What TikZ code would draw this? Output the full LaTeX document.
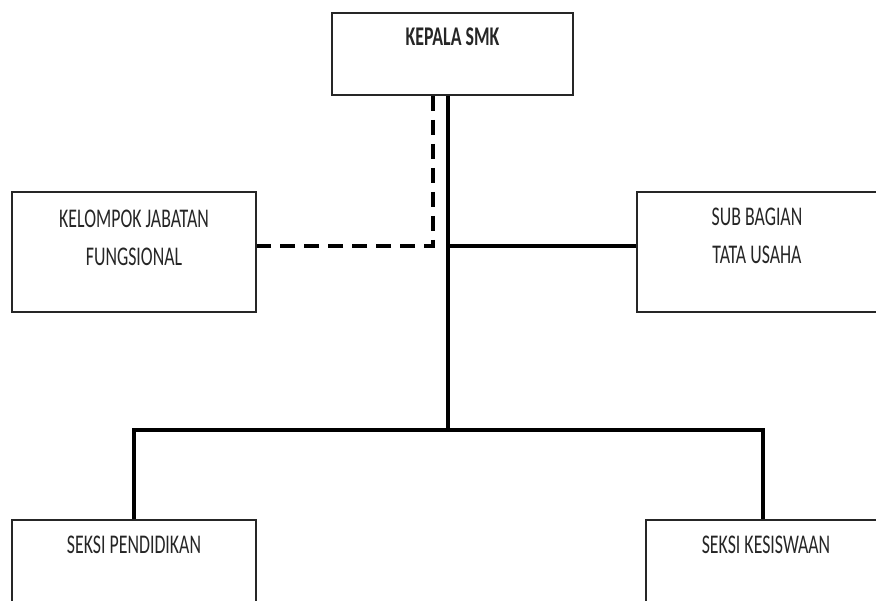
\documentclass[tikz,border=0pt]{standalone}
\usepackage{fontspec}
\setmainfont[FakeStretch=0.66]{Carlito}
\usetikzlibrary{positioning}

\tikzset{
  box/.style={draw=black!85, line width=1.6pt, minimum width=242pt, minimum height=120pt, inner sep=0pt},
  txt/.style={text=black!85, align=center, font=\fontsize{27}{38}\selectfont},
  conn/.style={line width=3.2pt, line cap=butt, line join=miter},
  dashconn/.style={conn, dash pattern=on 15pt off 9pt}
}

\begin{document}
\begin{tikzpicture}[x=1pt, y=-1pt]

% CANVAS
\path[use as bounding box, clip] (0,0) rectangle (876,601);

% BOXES
\node[box, minimum width=241pt, minimum height=82pt] (kepala) at (452.5,54) {};
\node[box, minimum width=244pt] (fungsional) at (134,252) {};
\node[box, minimum width=240pt] (tatausaha) at (757,252) {};
\node[box, minimum width=244pt] (pendidikan) at (134,580) {};
\node[box, minimum width=240pt] (kesiswaan) at (766,580) {};

% LABELS
\node[txt, font=\fontsize{27}{38}\selectfont\bfseries] (kepalaT) at ([yshift=-24.5pt]kepala.north) {KEPALA SMK};
\node[txt] (fungsionalT) at ([yshift=-47pt]fungsional.north) {KELOMPOK JABATAN\\FUNGSIONAL};
\node[txt] (tatausahaT) at ([yshift=-45pt]tatausaha.north) {SUB BAGIAN\\TATA USAHA};
\node[txt] (pendidikanT) at ([yshift=-26pt]pendidikan.north) {SEKSI PENDIDIKAN};
\node[txt] (kesiswaanT) at ([yshift=-26pt]kesiswaan.north) {SEKSI KESISWAAN};

% helper coordinates
\coordinate (trunk) at (448,430);
\coordinate (side) at (448,246);
\coordinate (staff) at (433,246);
\coordinate (busL) at (134,430);
\coordinate (busR) at (763,430);

% EDGES
\draw[conn] (kepala.south -| trunk) -- (trunk);
\draw[conn] (side) -- (side -| tatausaha.west);
\draw[dashconn] (kepala.south -| staff) -- (staff) -- (staff -| fungsional.east);
\draw[conn] (pendidikan.north -| busL) -- (busL) -- (busR) -- (kesiswaan.north -| busR);

\end{tikzpicture}
\end{document}
